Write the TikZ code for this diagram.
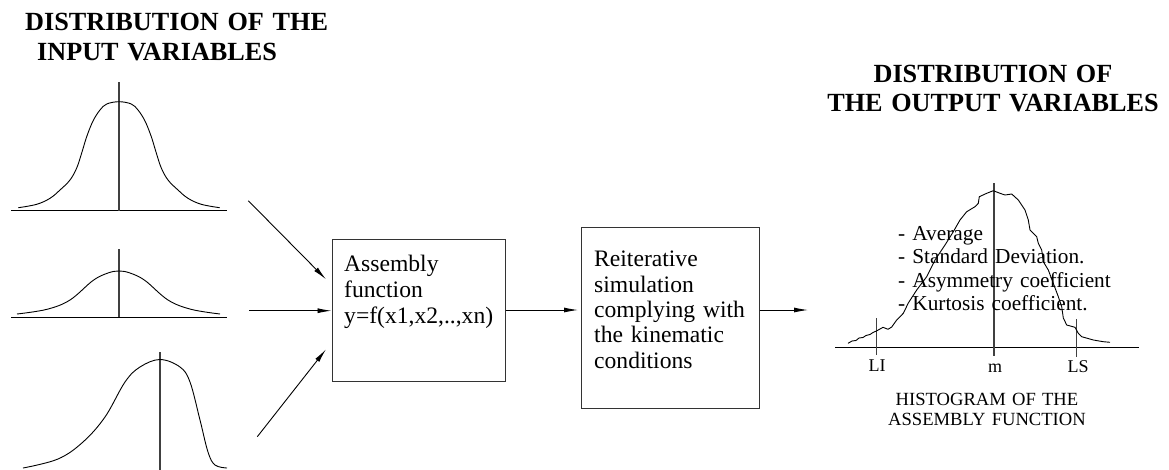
\documentclass[tikz,border=0pt]{standalone}
\usepackage{fontspec}
\setmainfont{Liberation Serif}
\usetikzlibrary{arrows.meta}
\tikzset{
  thin line/.style={line width=0.9pt, black},
  axis line/.style={line width=1.2pt, black!75},
  curve/.style={line width=0.9pt, black, line join=round},
  arr/.style={line width=0.9pt, -{Latex[length=14pt,width=5pt]}},
  procbox/.style={draw=black!80, line width=1pt, inner sep=0pt},
  title/.style={font=\bfseries\fontsize{26.2}{29.5}\selectfont, inner sep=0pt},
  body/.style={font=\fontsize{23.6}{26}\selectfont, inner sep=0pt, align=left},
  stat/.style={font=\fontsize{21.3}{23.6}\selectfont, inner sep=0pt, align=left},
  tick label/.style={font=\fontsize{18}{20}\selectfont, inner sep=0pt, anchor=base},
  caption/.style={font=\fontsize{18.6}{19.6}\selectfont, inner sep=0pt, align=center}
}
\begin{document}
\begin{tikzpicture}[x=1pt, y=-1pt]
\useasboundingbox (0,0) rectangle (1169,469);

% titles
\node[title, anchor=base west, text width=330pt, align=left] (tin) at (25,30.7)
  {DISTRIBUTION OF THE\\\hspace*{12pt}INPUT VARIABLES};
\node[title, anchor=base, text width=360pt, align=center] (tout) at (993,82)
  {DISTRIBUTION OF\\THE OUTPUT VARIABLES};

% input distribution 1
\draw[thin line] (11,210.7) -- (227,210.7);
\draw[axis line] (119,82) -- (119,210.7);
\draw[curve] plot[smooth, tension=0.6] coordinates {(18.3,207.7) (36.7,204.3) (50,198.3) (60,190) (70,180) (76.7,168) (81.7,153) (86.7,136.7) (93,121) (100,110) (106.7,104) (119,101.7) (131.3,104) (138,110) (145,121) (151.3,136.7) (156.3,153) (161.3,168) (168,180) (178,190) (188,198.3) (201.3,204.3) (219.7,207.7)};

% input distribution 2
\draw[thin line] (11,317) -- (227,317);
\draw[axis line] (119,249) -- (119,317);
\draw[curve] plot[smooth, tension=0.6] coordinates {(17,314) (47,309.3) (70,300) (93,280.5) (108,273) (119,271) (130,273) (145,280.5) (168,300) (191,309.3) (220,314)};

% input distribution 3
\draw[axis line] (160,352) -- (160,470);
\draw[curve] plot[smooth, tension=0.6] coordinates {(23,468) (58,459) (83,442) (105,417) (125,382) (140,367) (160,359.5) (180,367) (190,382) (200,420) (208,452) (215,465) (227,468)};

% boxes
\node[procbox, minimum width=173pt, minimum height=142pt] (b1) at (418.5,310) {};
\node[procbox, minimum width=178pt, minimum height=181pt] (b2) at (670,317.8) {};
\node[body, anchor=base west, text width=165pt] (t1) at (344,271.7)
  {Assembly\\function\\y=f(x1,x2,..,xn)};
\node[body, anchor=base west, text width=165pt, font=\fontsize{23.6}{25.4}\selectfont] (t2) at (594,266.7)
  {Reiterative\\simulation\\complying with\\the kinematic\\conditions};

% input arrows
\coordinate (a1s) at (248.3,200.7);
\coordinate (a1e) at (326,279.3);
\coordinate (a2s) at (249.3,310.7);
\coordinate (a3s) at (257.3,436.7);
\coordinate (a3e) at (326,349.3);
\draw[arr] (a1s) -- (a1e);
\draw[arr] (a2s) -- (a2s -| b1.west);
\draw[arr] (a3s) -- (a3e);

% process arrows
\coordinate (hin) at (808,310);
\draw[arr, shorten >=2.5pt] (b1.east |- hin) -- (hin -| b2.west);
\draw[arr] (b2.east |- hin) -- (hin);

% histogram
\draw[thin line] (835,347.3) -- (1139,347.3);
\draw[axis line] (876.7,318) -- (876.7,355);
\draw[axis line] (994,183) -- (994,356);
\draw[axis line] (1076.7,319) -- (1076.7,356.7);
\draw[curve] (848,343.3) -- (852,341) -- (856,340.5) -- (859,338) -- (863,337.5) -- (866,335.5) -- (870,334.5) -- (873,332.5) -- (877,330.7) -- (883,327.3) -- (888,329.3) -- (891.7,327) -- (896.7,320) -- (903.3,313.3) -- (908.3,303) -- (916.7,290) -- (926.7,276.7) -- (935,260) -- (945,245) -- (953.3,231.7) -- (960,220) -- (966.7,211.7) -- (975,206.7) -- (978.3,203.3) -- (979.3,196.7) -- (986.7,193.3) -- (993.3,190.7) -- (1000,193.3) -- (1005,195) -- (1011.7,194) -- (1018.3,200) -- (1025,210) -- (1028.3,220) -- (1030,230) -- (1036.7,236.7) -- (1038.3,243.3) -- (1041.7,250) -- (1043.3,261.7) -- (1048.3,270) -- (1053.3,283.3) -- (1058.3,296.7) -- (1061.7,306.7) -- (1063.3,318) -- (1066.7,325) -- (1075,327.3) -- (1078.3,333.3) -- (1081.7,336.7) -- (1093.3,340) -- (1103.3,341.7) -- (1110,342.3);

\node[stat, anchor=base west, text width=260pt] (st) at (898,240)
  {- Average\\- Standard Deviation.\\- Asymmetry coefficient\\- Kurtosis coefficient.};
\node[tick label] (li) at (877,371.7) {LI};
\node[tick label] (mm) at (995,372) {m};
\node[tick label] (ls) at (1078,372) {LS};
\node[caption, anchor=base, text width=230pt] (cap) at (987,405.7)
  {HISTOGRAM OF THE\\ASSEMBLY FUNCTION};
\end{tikzpicture}
\end{document}
